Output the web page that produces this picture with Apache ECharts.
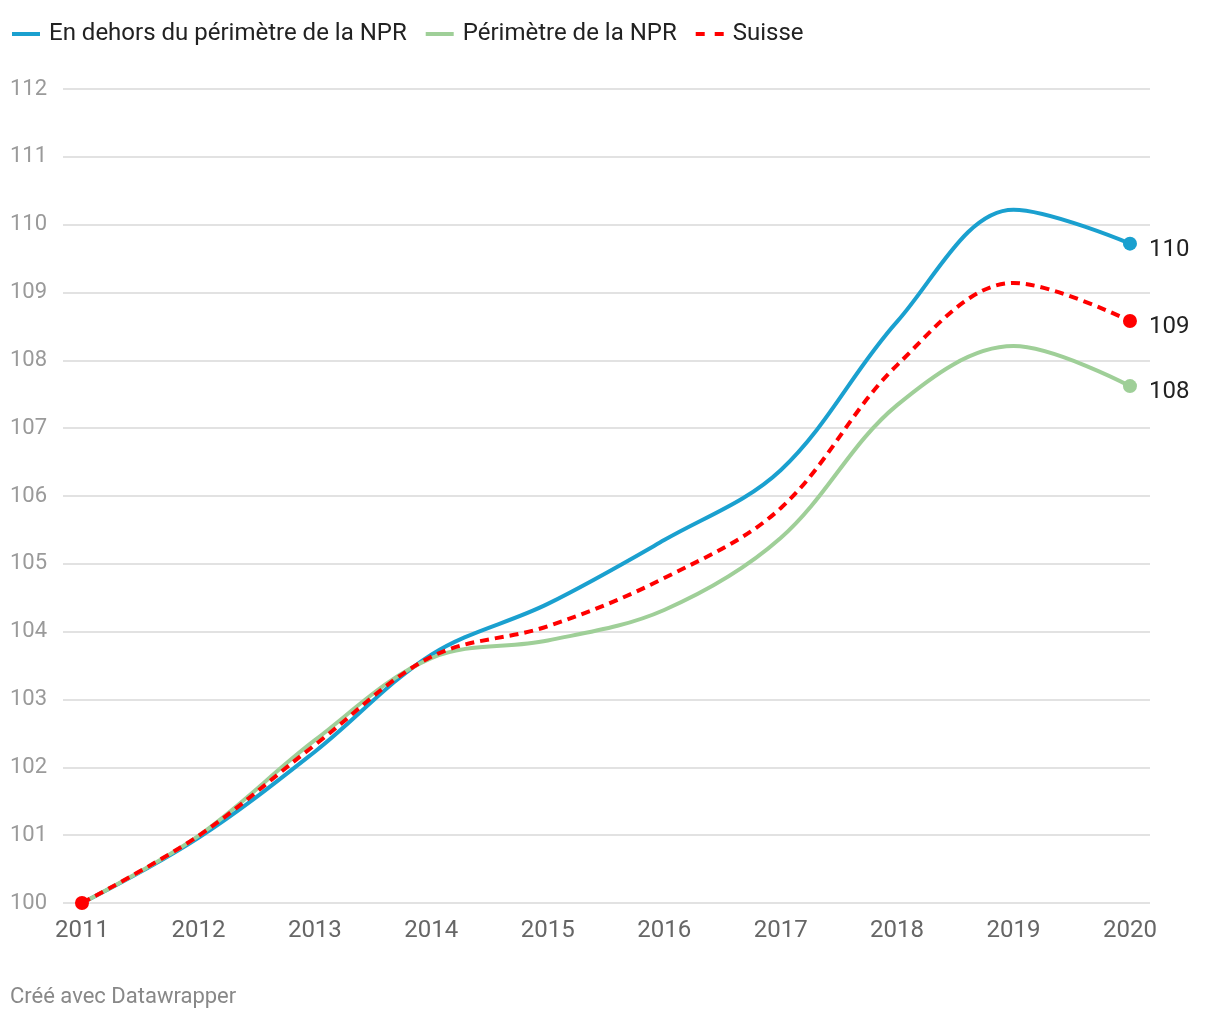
<!DOCTYPE html>
<html><head><meta charset="utf-8">
<script src="https://cdn.jsdelivr.net/npm/echarts@6/dist/echarts.min.js"></script>
<style>html,body{margin:0;padding:0;background:#fff;}#c{width:1220px;height:1020px;}</style>
</head><body><div id="c"></div>
<script>
const years = [2011, 2012, 2013, 2014, 2015, 2016, 2017, 2018, 2019, 2020];
const outsideNPR = [100, 100.96, 102.23, 103.66, 104.41, 105.35, 106.38, 108.57, 110.22, 109.72];
const insideNPR = [100, 100.99, 102.40, 103.61, 103.87, 104.32, 105.38, 107.34, 108.21, 107.62];
const suisse = [100, 100.99, 102.33, 103.63, 104.08, 104.79, 105.82, 107.93, 109.14, 108.58];
const yTicks = [100, 101, 102, 103, 104, 105, 106, 107, 108, 109, 110, 111, 112];
const names = ['En dehors du périmètre de la NPR', 'Périmètre de la NPR', 'Suisse'];
const colors = ['#1aa0cf', '#9fcf98', '#ff0000'];
const allSeries = [outsideNPR, insideNPR, suisse];

const font = 'Roboto, "Noto Sans", sans-serif';
const pairs = arr => years.map((y, i) => [y, arr[i]]);
const solidIcon = 'path://M0,0h28v4h-28z';
const dashIcon = 'path://M0,0h9v4h-9z M19,0h9v4h-9z';

const series = [];
allSeries.forEach((arr, k) => {
  series.push({
    name: names[k], type: 'line', data: pairs(arr), smooth: 0.35,
    symbol: 'none', z: k === 2 ? 5 : 3,
    lineStyle: { color: colors[k], width: 4, type: k === 2 ? [9, 6] : 'solid', cap: 'butt' },
    itemStyle: { color: colors[k] }
  });
});
allSeries.forEach((arr, k) => {
  const n = arr.length - 1;
  series.push({
    name: names[k] + '_end', type: 'scatter', data: [[years[n], arr[n]]],
    symbol: 'circle', symbolSize: 14, z: 6,
    itemStyle: { color: colors[k], opacity: 1 },
    label: { show: true, position: 'right', distance: 12, offset: [0, 6],
      formatter: p => Math.round(p.value[1]).toString(),
      color: '#222', fontSize: 24, fontFamily: font }
  });
});
series.push({
  name: 'start', type: 'scatter', data: [[years[0], suisse[0]]],
  symbol: 'circle', symbolSize: 14, z: 7, itemStyle: { color: colors[2], opacity: 1 }
});

const chart = echarts.init(document.getElementById('c'), null, { renderer: 'canvas' });
chart.setOption({
  animation: false,
  backgroundColor: '#fff',
  legend: {
    data: [
      { name: names[0], icon: solidIcon },
      { name: names[1], icon: solidIcon },
      { name: names[2], icon: dashIcon }
    ],
    left: 7, top: 17, itemWidth: 28, itemHeight: 4, itemGap: 19,
    textStyle: { color: '#222', fontSize: 24, fontFamily: font, padding: [0, 0, 0, 4] }
  },
  grid: { left: 63, right: 70, top: 89, bottom: 117, containLabel: false },
  xAxis: {
    type: 'value', min: 2010.837, max: 2020.172,
    axisLine: { show: false }, axisTick: { show: false }, splitLine: { show: false },
    axisLabel: { customValues: years, formatter: v => String(v), color: '#666', fontSize: 24, fontFamily: font, margin: 16 }
  },
  yAxis: {
    type: 'value', min: 100, max: 112, interval: 1,
    axisLine: { show: false }, axisTick: { show: false },
    splitLine: { lineStyle: { color: '#e2e2e2', width: 2 } },
    axisLabel: { align: 'left', margin: 53, color: '#9a9a9a', fontSize: 22, fontFamily: font,
      formatter: v => yTicks.includes(v) ? String(v) : '' }
  },
  graphic: [{ type: 'text', left: 10, top: 986, style: { text: 'Créé avec Datawrapper', fill: '#888', fontSize: 22, fontFamily: font } }],
  series: series
});
</script></body></html>
